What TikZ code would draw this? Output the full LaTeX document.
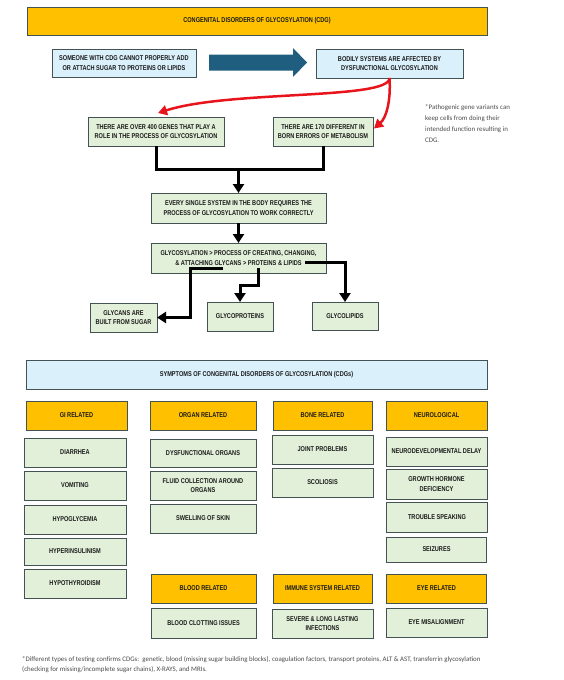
\documentclass[tikz,border=0pt]{standalone}
\usepackage{fontspec}
\setmainfont{Liberation Sans}[FakeStretch=0.8]
\newfontfamily\notefont{Carlito}
\usetikzlibrary{arrows.meta,calc}
\definecolor{orng}{HTML}{FFC000}
\definecolor{lblue}{HTML}{DAF0FB}
\definecolor{lgreen}{HTML}{E2F0D9}
\definecolor{bord}{HTML}{435353}
\definecolor{navy}{HTML}{1F5E7E}
\definecolor{txt}{HTML}{1A1A1A}
\definecolor{redc}{HTML}{E8141B}
\definecolor{notec}{HTML}{4A4A4A}
\begin{document}
\begin{tikzpicture}[x=1pt,y=-1pt,
 box/.style={draw=bord, line width=0.9pt, inner sep=1pt, outer sep=0pt, align=center,
   font=\fontsize{7}{9.3}\selectfont\bfseries, text=txt},
 gbox/.style={box, fill=lgreen},
 bbox/.style={box, fill=lblue},
 obox/.style={box, fill=orng},
 blk/.style={line width=3pt, draw=black},
 blkarr/.style={blk, -{Triangle[length=9pt,width=11pt]}},
 redarr/.style={line width=2.5pt, draw=redc, -{Triangle[length=9pt,width=10pt]}},
 note/.style={font=\notefont\fontsize{6.9}{11}\selectfont, text=notec, align=left, inner sep=0pt},
]
\useasboundingbox (0,0) rectangle (563,680);

% ---- top part
\node[obox, minimum width=460, minimum height=28] (title) at (257,21) {CONGENITAL DISORDERS OF GLYCOSYLATION (CDG)};
\node[bbox, minimum width=144, minimum height=28] (someone) at (124,63) {SOMEONE WITH CDG CANNOT PROPERLY ADD\\OR ATTACH SUGAR TO PROTEINS OR LIPIDS};
\node[bbox, minimum width=147, minimum height=29] (bodily) at (389.5,63.5) {BODILY SYSTEMS ARE AFFECTED BY\\DYSFUNCTIONAL GLYCOSYLATION};

% block arrow
\coordinate (aS) at ($(someone.east)+(13,-0.5)$);
\coordinate (aT) at ($(bodily.west)+(-9,-1)$);
\fill[navy] ($(aS)+(0,-8)$) -- ($(aT)+(-14,-8)$) -- ($(aT)+(-14,-14.5)$) -- (aT)
  -- ($(aT)+(-14,14.5)$) -- ($(aT)+(-14,8)$) -- ($(aS)+(0,8)$) -- cycle;

\node[gbox, minimum width=136, minimum height=29] (gene) at (156,131.5) {THERE ARE OVER 400 GENES THAT PLAY A\\ROLE IN THE PROCESS OF GLYCOSYLATION};
\node[gbox, minimum width=100, minimum height=29] (born) at (323,131.5) {THERE ARE 170 DIFFERENT IN\\BORN ERRORS OF METABOLISM};

\node[note, anchor=north west] (pnote) at (425,104) {*Pathogenic gene variants can\\keep cells from doing their\\intended function resulting in\\CDG.};

% red arrows
\draw[redarr] (bodily.south) .. controls (390,100) and (230,90) .. ($(gene.north)+(2,-4)$);
\draw[redarr] (bodily.south) .. controls (391,102) and (386,118) .. ($(born.east)+(1,-3)$);

\node[gbox, minimum width=175, minimum height=30] (every) at (238.5,208) {EVERY SINGLE SYSTEM IN THE BODY REQUIRES THE\\PROCESS OF GLYCOSYLATION TO WORK CORRECTLY};
\node[gbox, minimum width=175, minimum height=30] (glyco) at (238.5,258) {GLYCOSYLATION > PROCESS OF CREATING, CHANGING,\\\& ATTACHING GLYCANS > PROTEINS \& LIPIDS};

\coordinate (join) at (238.5,169);
\draw[blk] (gene.south) |- (born.south |- join) -- (born.south);
\draw[blkarr] (join) -- (every.north);
\draw[blkarr] (every.south) -- (glyco.north);

\node[gbox, minimum width=67, minimum height=29] (glycans) at (123.5,317.5) {GLYCANS ARE\\BUILT FROM SUGAR};
\node[gbox, minimum width=66, minimum height=29] (gprot) at (240,316.5) {GLYCOPROTEINS};
\node[gbox, minimum width=66, minimum height=28] (glip) at (345,316) {GLYCOLIPIDS};

\coordinate (l1) at (223,268);
\coordinate (l2) at (190,268);
\draw[blkarr] (l1) -- (l2) |- (glycans.east);
\coordinate (m1) at (258,268);
\coordinate (m2) at (258,285);
\draw[blkarr] (m1) -- (m2) -| (gprot.north);
\coordinate (r1) at (305,262);
\draw[blkarr] (r1) -| (glip.north);

% ---- symptoms
\node[bbox, minimum width=461, minimum height=29] (sympt) at (256.5,374.5) {SYMPTOMS OF CONGENITAL DISORDERS OF GLYCOSYLATION (CDGs)};

% column 1
\node[obox, minimum width=101, minimum height=29] (h1) at (76.5,415.5) {GI RELATED};
\node[gbox, minimum width=102, minimum height=29] (c1a) at (75,452.5) {DIARRHEA};
\node[gbox, minimum width=102, minimum height=29] (c1b) at (75,485.5) {VOMITING};
\node[gbox, minimum width=102, minimum height=29] (c1c) at (75,519.5) {HYPOGLYCEMIA};
\node[gbox, minimum width=102, minimum height=27] (c1d) at (75,551.5) {HYPERINSULINISM};
\node[gbox, minimum width=102, minimum height=29] (c1e) at (75,583.5) {HYPOTHYROIDISM};

% column 2
\node[obox, minimum width=106, minimum height=29] (h2) at (203,415.5) {ORGAN RELATED};
\node[gbox, minimum width=106, minimum height=28] (c2a) at (203,453) {DYSFUNCTIONAL ORGANS};
\node[gbox, minimum width=106, minimum height=29] (c2b) at (203,485.5) {FLUID COLLECTION AROUND\\ORGANS};
\node[gbox, minimum width=106, minimum height=29] (c2c) at (203,518.5) {SWELLING OF SKIN};
\node[obox, minimum width=105, minimum height=29] (h5) at (203.5,588.5) {BLOOD RELATED};
\node[gbox, minimum width=105, minimum height=30] (c5a) at (203.5,623) {BLOOD CLOTTING ISSUES};

% column 3
\node[obox, minimum width=99, minimum height=29] (h3) at (322.5,415.5) {BONE RELATED};
\node[gbox, minimum width=101, minimum height=29] (c3a) at (322.5,449.5) {JOINT PROBLEMS};
\node[gbox, minimum width=101, minimum height=29] (c3b) at (322.5,482.5) {SCOLIOSIS};
\node[obox, minimum width=99, minimum height=29] (h6) at (322.5,588.5) {IMMUNE SYSTEM RELATED};
\node[gbox, minimum width=101, minimum height=29] (c6a) at (322.5,623.5) {SEVERE \& LONG LASTING\\INFECTIONS};

% column 4
\node[obox, minimum width=101, minimum height=29] (h4) at (436.5,415.5) {NEUROLOGICAL};
\node[gbox, minimum width=101, minimum height=29] (c4a) at (436.5,451.5) {NEURODEVELOPMENTAL DELAY};
\node[gbox, minimum width=101, minimum height=30] (c4b) at (436.5,484) {GROWTH HORMONE\\DEFICIENCY};
\node[gbox, minimum width=101, minimum height=30] (c4c) at (437,517) {TROUBLE SPEAKING};
\node[gbox, minimum width=100, minimum height=25] (c4d) at (436.5,549.5) {SEIZURES};
\node[obox, minimum width=100, minimum height=29] (h7) at (436.5,588.5) {EYE RELATED};
\node[gbox, minimum width=101, minimum height=29] (c7a) at (436.5,622.5) {EYE MISALIGNMENT};

\node[note, anchor=north west, font=\notefont\fontsize{6.9}{10.5}\selectfont] (foot) at (22,656) {*Different types of testing confirms CDGs:\ \ genetic, blood (missing sugar building blocks), coagulation factors, transport proteins, ALT \& AST, transferrin glycosylation\\(checking for missing/incomplete sugar chains), X-RAYS, and MRIs.};
\end{tikzpicture}
\end{document}
